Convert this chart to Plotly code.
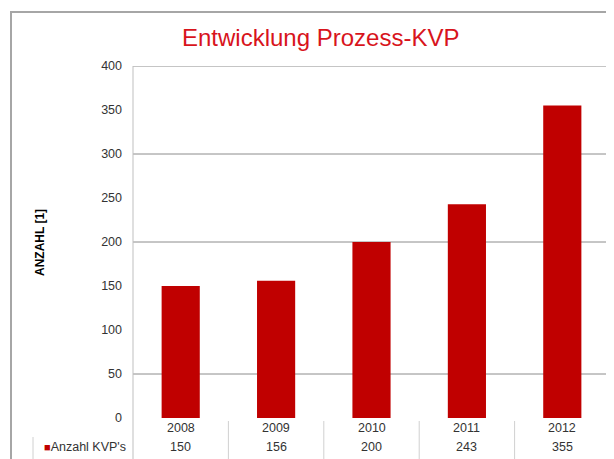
import plotly.graph_objects as go

years = ["2008", "2009", "2010", "2011", "2012"]
values = [150, 156, 200, 243, 355]
series_name = "Anzahl KVP's"
y_ticks = [0, 50, 100, 150, 200, 250, 300, 350, 400]
grid_levels = [50, 200, 300, 400]

RED = "#c00000"
FONT = "Liberation Sans, Arial, sans-serif"
TXT = 12.5

OFF = 8  # page body margin
W, H = 614 - OFF, 459 - OFF
REF_L, REF_R, REF_T, REF_B = 133, 610, 66, 418
L = REF_L - OFF
T = REF_T - OFF
R = W - (REF_R - OFF)
B = H - (REF_B - OFF)
PH = REF_B - REF_T
PW = REF_R - REF_L

def py(ref_y):
    return (REF_B - ref_y) / PH

def px(ref_x):
    return (ref_x - REF_L) / PW

fig = go.Figure()
fig.add_trace(go.Bar(
    x=list(range(len(years))), y=values, marker=dict(color=RED, line=dict(width=0)),
    width=0.4, name=series_name, showlegend=False,
))

shapes = []
for g in grid_levels:
    shapes.append(dict(type="line", xref="paper", yref="y", x0=0, x1=1, y0=g, y1=g,
                       line=dict(color="#8c8c8c", width=1), layer="below"))
shapes.append(dict(type="line", xref="paper", yref="paper", x0=0, x1=0, y0=1, y1=py(470),
                   line=dict(color="#bfbfbf", width=1)))
for i in range(len(years)):
    xv = i + 0.5
    shapes.append(dict(type="line", xref="x", yref="paper", x0=xv, x1=xv, y0=py(421), y1=py(470),
                       line=dict(color="#d0d0d0", width=1)))
shapes.append(dict(type="line", xref="paper", yref="paper", x0=px(33), x1=px(33), y0=py(437), y1=py(470),
                   line=dict(color="#d0d0d0", width=1)))
shapes.append(dict(type="line", xref="paper", yref="paper", x0=px(11), x1=px(11), y0=py(12), y1=py(480),
                   line=dict(color="#a6a6a6", width=2)))
shapes.append(dict(type="line", xref="paper", yref="paper", x0=px(10), x1=px(630), y0=py(12), y1=py(12),
                   line=dict(color="#a6a6a6", width=2)))

annotations = []
for i, (yr, v) in enumerate(zip(years, values)):
    annotations.append(dict(x=i, y=py(428), xref="x", yref="paper", text=yr, showarrow=False,
                            font=dict(size=TXT, color="#333333", family=FONT), xanchor="center", yanchor="middle"))
    annotations.append(dict(x=i, y=py(447), xref="x", yref="paper", text=str(v), showarrow=False,
                            font=dict(size=TXT, color="#333333", family=FONT), xanchor="center", yanchor="middle"))
annotations.append(dict(x=px(128), y=py(447), xref="paper", yref="paper",
                        text=f"<span style='color:{RED};font-size:11px'>■</span>{series_name}",
                        showarrow=False, font=dict(size=TXT, color="#333333", family=FONT),
                        xanchor="right", yanchor="middle"))
annotations.append(dict(x=px(40), y=py(243), xref="paper", yref="paper", text="<b>ANZAHL [1]</b>",
                        textangle=-90, showarrow=False, font=dict(size=12, color="#000000", family=FONT),
                        xanchor="center", yanchor="middle"))
annotations.append(dict(x=px(320), y=py(38), xref="paper", yref="paper", text="Entwicklung Prozess-KVP",
                        showarrow=False, font=dict(size=24, color="#d8141c", family=FONT),
                        xanchor="center", yanchor="middle"))

fig.update_layout(
    width=W, height=H,
    margin=dict(l=L, r=R, t=T, b=B),
    paper_bgcolor="white", plot_bgcolor="white",
    font=dict(family=FONT, size=TXT, color="#333333"),
    xaxis=dict(range=[-0.5, len(years) - 0.5], showticklabels=False, showgrid=False,
               zeroline=False, showline=False, fixedrange=True),
    yaxis=dict(range=[0, 400], tickvals=y_ticks, showgrid=False, zeroline=False, showline=False,
               ticklabelstandoff=10, tickfont=dict(size=TXT, color="#333333"), fixedrange=True),
    shapes=shapes,
    annotations=annotations,
    bargap=0.6,
)

fig.write_html("out.html")
